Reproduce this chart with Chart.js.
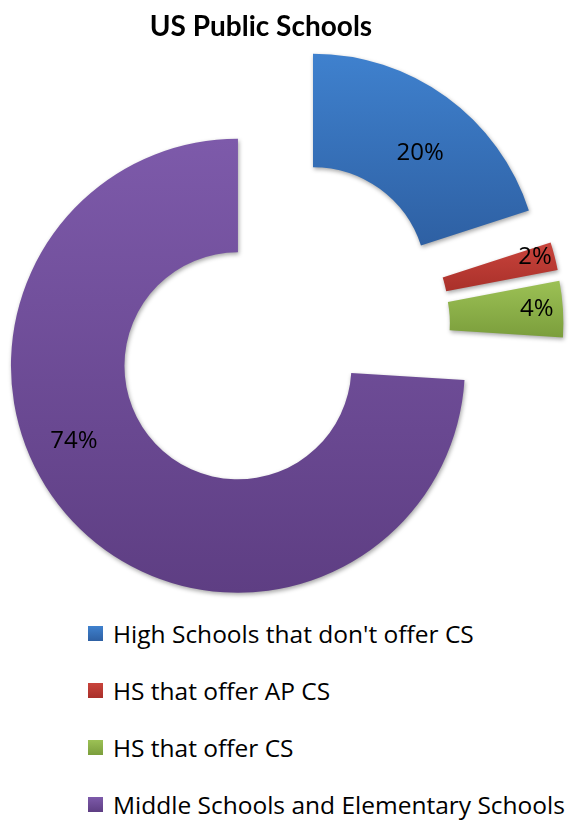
<!DOCTYPE html>
<html>
<head>
<meta charset="utf-8">
<title>US Public Schools</title>
<script src="https://cdn.jsdelivr.net/npm/chart.js@4.4.0/dist/chart.umd.min.js"></script>
<style>
  html, body { margin: 0; padding: 0; background: #fff; }
  #wrap { position: relative; width: 580px; height: 824px; }
  #title { position: absolute; left: 0; top: 8px; width: 522px; height: 34px; line-height: 34px; text-align: center;
           font-family: Lato, sans-serif; font-weight: bold; font-size: 28px; color: #000; }
  #chartBox { position: absolute; left: 0; top: 0; width: 580px; height: 605px; }
  #legend { position: absolute; left: 0; top: 605px; width: 580px; font-family: "Open Sans", sans-serif; font-size: 24.5px; color: #000; }
  .item { display: flex; align-items: center; height: 57px; padding-left: 88px; white-space: nowrap; }
  .swatch { width: 15px; height: 15px; margin-right: 10px; flex: none; }
</style>
</head>
<body>
<div id="wrap">
  <div id="chartBox"><canvas id="schoolsPie"></canvas></div>
  <div id="title">US Public Schools</div>
  <div id="legend"></div>
</div>
<script>
// data
const labels = [
  "High Schools that don't offer CS",
  "HS that offer AP CS",
  "HS that offer CS",
  "Middle Schools and Elementary Schools",
];
const shares = [20, 2, 4, 74]; // percent

// colours (top / bottom of each slice's gradient)
const topColors = ["#3f81ce", "#c9443c", "#9cc155", "#7d5aaa"];
const bottomColors = ["#2e60a3", "#a9302a", "#7b9e3c", "#5e3e83"];

const explodeBy = 57; // px, every slice pulled out from the centre

// label placement: angle shift (deg) from the slice bisector, radial position within the ring (0..1)
const labelShift = [4, -1, -0.5, 18.6];
const labelDepth = [0.47, 0.83, 0.77, 0.59];

// Excel style "exploded" doughnut: every arc drawn shifted along its bisector
const explodePlugin = {
  id: "explode",
  beforeDatasetDraw(chart, args) {
    const ctx = chart.ctx;
    args.meta.data.forEach((arc, i) => {
      const mid = (arc.startAngle + arc.endAngle) / 2;
      const dx = Math.cos(mid) * explodeBy;
      const dy = Math.sin(mid) * explodeBy;

      // vertical extent of the slice for its gradient
      let top = Infinity, bottom = -Infinity;
      for (let k = 0; k <= 40; k++) {
        const a = arc.startAngle + (arc.endAngle - arc.startAngle) * k / 40;
        [arc.innerRadius, arc.outerRadius].forEach((r) => {
          const y = arc.y + Math.sin(a) * r;
          top = Math.min(top, y);
          bottom = Math.max(bottom, y);
        });
      }
      const grad = ctx.createLinearGradient(0, top, 0, bottom);
      grad.addColorStop(0, topColors[i]);
      grad.addColorStop(1, bottomColors[i]);

      ctx.save();
      ctx.translate(dx, dy);
      ctx.shadowColor = "rgba(0,0,0,0.35)";
      ctx.shadowBlur = 4;
      ctx.shadowOffsetX = 1;
      ctx.shadowOffsetY = 2;
      const saved = arc.options;
      arc.options = Object.assign({}, saved, { backgroundColor: grad });
      arc.draw(ctx);
      arc.options = saved;
      ctx.restore();
    });
    return false; // skip default drawing
  },
  // percent labels (afterDatasetDraw is skipped once the draw is cancelled)
  afterDatasetsDraw(chart) {
    const ctx = chart.ctx;
    const meta = chart.getDatasetMeta(0);
    ctx.save();
    ctx.font = "24px 'Open Sans', sans-serif";
    ctx.fillStyle = "#000";
    ctx.textAlign = "center";
    ctx.textBaseline = "middle";
    meta.data.forEach((arc, i) => {
      const mid = (arc.startAngle + arc.endAngle) / 2;
      const cx = arc.x + Math.cos(mid) * explodeBy;
      const cy = arc.y + Math.sin(mid) * explodeBy;
      const a = mid + labelShift[i] * Math.PI / 180;
      const r = arc.innerRadius + (arc.outerRadius - arc.innerRadius) * labelDepth[i];
      ctx.fillText(shares[i] + "%", cx + Math.cos(a) * r, cy + Math.sin(a) * r);
    });
    ctx.restore();
  },
};

const chart = new Chart(document.getElementById("schoolsPie"), {
  type: "doughnut",
  data: {
    labels: labels,
    datasets: [
      {
        data: shares,
        backgroundColor: topColors,
        borderWidth: 0,
      },
    ],
  },
  options: {
    responsive: true,
    maintainAspectRatio: false,
    animation: false,
    radius: 227,
    cutout: "50%",
    layout: { padding: { left: 0, right: 21, top: 50.6, bottom: 2 } },
    plugins: {
      title: { display: false },
      legend: { display: false },
      tooltip: { enabled: false },
    },
  },
  plugins: [explodePlugin],
});

// legend under the chart, one entry per row
const legendEl = document.getElementById("legend");
labels.forEach((name, i) => {
  const row = document.createElement("div");
  row.className = "item";
  const sw = document.createElement("span");
  sw.className = "swatch";
  sw.style.background = `linear-gradient(${topColors[i]}, ${bottomColors[i]})`;
  const txt = document.createElement("span");
  txt.textContent = name;
  row.appendChild(sw);
  row.appendChild(txt);
  legendEl.appendChild(row);
});
</script>
</body>
</html>
